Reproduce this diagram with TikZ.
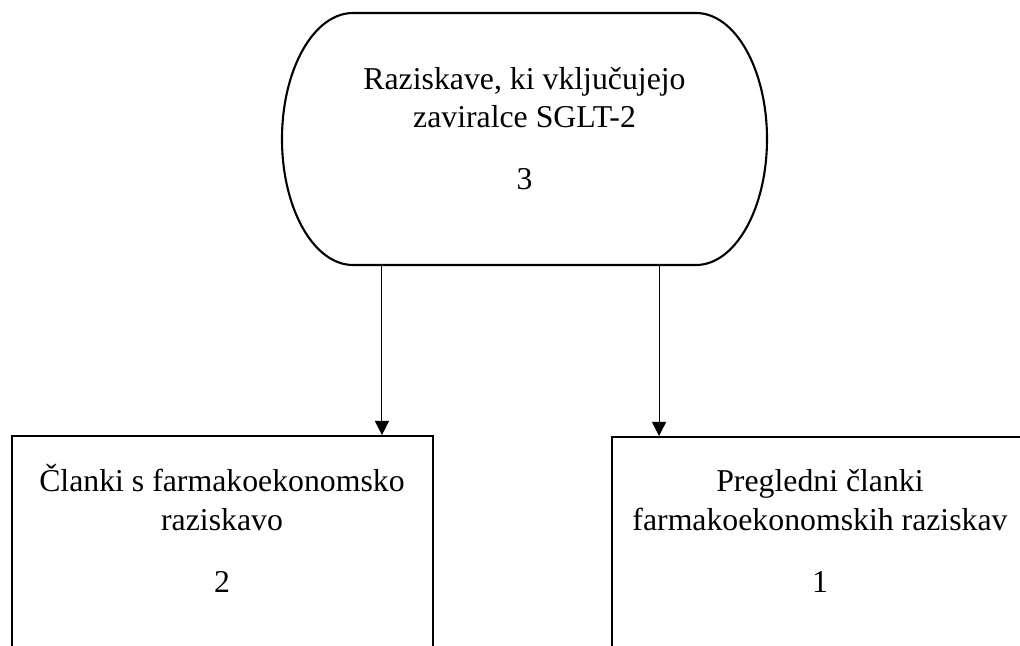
\documentclass[tikz,border=0pt]{standalone}
\usepackage{fontspec}
\setmainfont{Liberation Serif}
\usetikzlibrary{arrows.meta}
\begin{document}
\begin{tikzpicture}[x=0.025cm,y=0.025cm,
  outline/.style={draw,line width=1.5pt},
  box/.style={outline,rectangle,inner sep=0pt,minimum width=10.525cm,minimum height=7.5cm,anchor=north},
  lbl/.style={align=center,font=\fontsize{22.6}{27.4}\selectfont,anchor=base,inner sep=0pt},
  conn/.style={-{Triangle[length=10pt,width=10pt]},line width=0.75pt}]
\useasboundingbox (0,0) rectangle (1020,645);
\clip (0,0) rectangle (1020,645);
% top terminator shape
\node[inner sep=0pt,minimum width=12.125cm,minimum height=6.3cm] (top) at (524.5,506) {};
\draw[outline] (353,632) -- (696,632)
  arc[start angle=90,end angle=-90,x radius=71,y radius=126]
  -- (353,380)
  arc[start angle=270,end angle=90,x radius=71,y radius=126] -- cycle;
\node[lbl] (t3) at (524.5,455) {Raziskave, ki vključujejo\\zaviralce SGLT-2\\[17pt]3};
% bottom boxes
\node[box] (left) at (222.5,210) {};
\node[box] (right) at (822.5,209) {};
\node[lbl] (t2) at (222,52.3) {Članki s farmakoekonomsko\\raziskavo\\[17pt]2};
\node[lbl] (t1) at (820,52.3) {Pregledni članki\\farmakoekonomskih raziskav\\[17pt]1};
% connectors
\draw[conn] ([xshift=-3.5625cm]top.south) -- ([xshift=-3.5625cm]top.south |- left.north);
\draw[conn] ([xshift=3.3625cm]top.south) -- ([xshift=3.3625cm]top.south |- right.north);
\end{tikzpicture}
\end{document}
